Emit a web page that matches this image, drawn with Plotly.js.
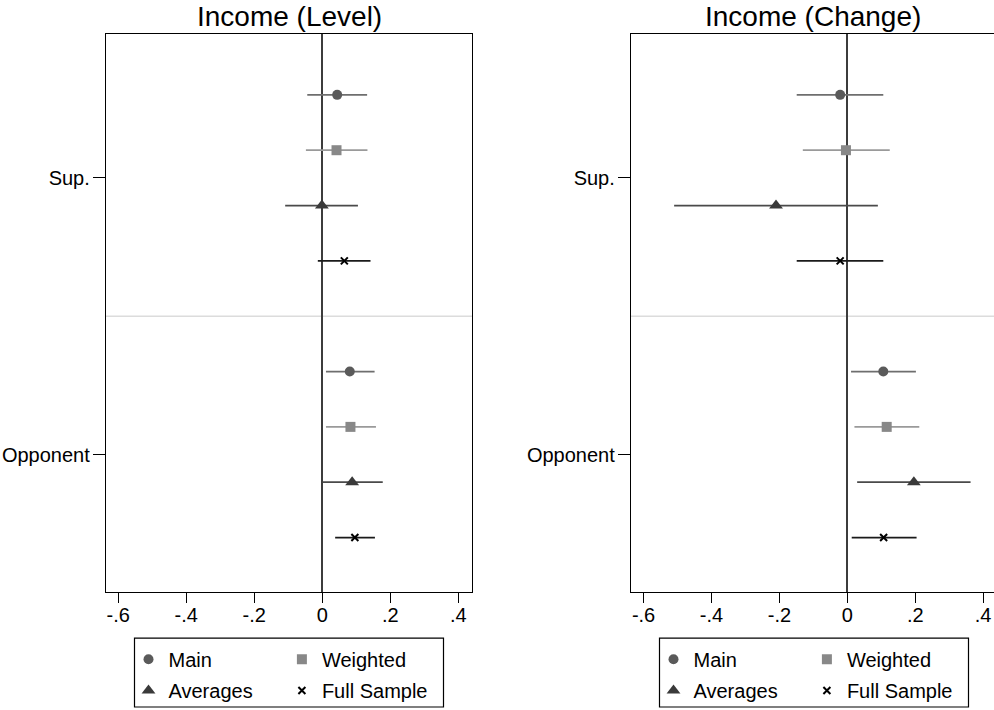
<!DOCTYPE html>
<html>
<head>
<meta charset="utf-8">
<script src="https://cdn.plot.ly/plotly-3.0.1.min.js"></script>
<style>html,body{margin:0;padding:0;background:#fff;}#chart{width:994px;height:710px;}</style>
</head>
<body>
<div id="chart"></div>
<script>
// ---- data ----
var groups = ['Sup.', 'Opponent'];
var seriesNames = ['Main', 'Weighted', 'Averages', 'Full Sample'];
var xTickVals = [-0.6, -0.4, -0.2, 0, 0.2, 0.4];
var xTickText = ['-.6', '-.4', '-.2', '0', '.2', '.4'];
var panelTitles = ['Income (Level)', 'Income (Change)'];

// Level panel: [Sup., Opponent]
var levelMainEst = [0.044, 0.081];
var levelMainLo  = [-0.044, 0.011];
var levelMainHi  = [0.132, 0.154];
var levelWeightedEst = [0.042, 0.083];
var levelWeightedLo  = [-0.048, 0.011];
var levelWeightedHi  = [0.133, 0.158];
var levelAveragesEst = [-0.001, 0.088];
var levelAveragesLo  = [-0.109, 0.001];
var levelAveragesHi  = [0.105, 0.178];
var levelFullEst = [0.065, 0.096];
var levelFullLo  = [-0.013, 0.038];
var levelFullHi  = [0.142, 0.155];

// Change panel: [Sup., Opponent]
var changeMainEst = [-0.021, 0.106];
var changeMainLo  = [-0.149, 0.011];
var changeMainHi  = [0.106, 0.202];
var changeWeightedEst = [-0.004, 0.116];
var changeWeightedLo  = [-0.131, 0.021];
var changeWeightedHi  = [0.125, 0.212];
var changeAveragesEst = [-0.210, 0.196];
var changeAveragesLo  = [-0.510, 0.029];
var changeAveragesHi  = [0.090, 0.363];
var changeFullEst = [-0.021, 0.107];
var changeFullLo  = [-0.149, 0.013];
var changeFullHi  = [0.106, 0.204];

// ---- styling ----
var FONT = 'Liberation Sans, Arial, Helvetica, sans-serif';
var W = 994, H = 710;
var styles = [
  {symbol: 'circle', size: 10, color: '#5a5a5a', lineColor: '#6e6e6e', mline: 0},
  {symbol: 'square', size: 10, color: '#888888', lineColor: '#9a9a9a', mline: 0},
  {symbol: 'triangle-up', size: 12, color: '#3a3a3a', lineColor: '#4a4a4a', mline: 0},
  {symbol: 'x-thin', size: 7, color: '#000000', lineColor: '#1a1a1a', mline: 2}
];

var panels = [
  {est: [levelMainEst, levelWeightedEst, levelAveragesEst, levelFullEst],
   lo: [levelMainLo, levelWeightedLo, levelAveragesLo, levelFullLo],
   hi: [levelMainHi, levelWeightedHi, levelAveragesHi, levelFullHi],
   xa: 'x', ya: 'y', left: 106, right: 472, xr: [-0.636, 0.4405]},
  {est: [changeMainEst, changeWeightedEst, changeAveragesEst, changeFullEst],
   lo: [changeMainLo, changeWeightedLo, changeAveragesLo, changeFullLo],
   hi: [changeMainHi, changeWeightedHi, changeAveragesHi, changeFullHi],
   xa: 'x2', ya: 'y2', left: 631, right: 994, xr: [-0.637, 0.432]}
];

var topPx = 34, botPx = 593;
var yRange = [9.987, -0.101];

var traces = [];
var legendIdx = 0;
var layout = {
  width: W, height: H,
  margin: {l: 0, r: 0, t: 0, b: 0},
  paper_bgcolor: '#ffffff', plot_bgcolor: '#ffffff',
  font: {family: FONT, size: 20, color: '#000'},
  showlegend: true,
  shapes: [], annotations: []
};

panels.forEach(function (p, pi) {
  var xKey = pi === 0 ? 'xaxis' : 'xaxis2';
  var yKey = pi === 0 ? 'yaxis' : 'yaxis2';
  layout[xKey] = {
    domain: [p.left / W, p.right / W], anchor: p.ya, range: p.xr,
    tickvals: xTickVals, ticktext: xTickText, ticks: 'outside', ticklen: 10,
    tickwidth: 1.2, tickcolor: '#000', showgrid: false,
    zeroline: true, zerolinecolor: '#3c3c3c', zerolinewidth: 1.8,
    showline: true, linecolor: '#000', linewidth: 1.2, mirror: true,
    tickfont: {family: FONT, size: 20, color: '#000'}, ticklabelstandoff: -5, fixedrange: true
  };
  layout[yKey] = {
    domain: [1 - botPx / H, 1 - topPx / H], anchor: p.xa, range: yRange,
    tickvals: [2.5, 7.5], ticktext: groups, ticks: 'outside', ticklen: 12,
    tickwidth: 1.2, tickcolor: '#000', showgrid: false, zeroline: false,
    showline: true, linecolor: '#000', linewidth: 1.2, mirror: true,
    tickfont: {family: FONT, size: 20, color: '#000'}, ticklabelstandoff: -1, fixedrange: true
  };
  // separator between groups
  layout.shapes.push({type: 'line', xref: p.xa + ' domain', x0: 0, x1: 1,
    yref: p.ya, y0: 5, y1: 5, line: {color: '#dcdcdc', width: 1.6}, layer: 'below'});
  // title
  layout.annotations.push({text: panelTitles[pi], xref: p.xa + ' domain', x: 0.5,
    yref: 'paper', y: 1 - 17 / H, yanchor: 'middle', xanchor: 'center', showarrow: false,
    font: {family: FONT, size: 28, color: '#000'}});
  // legend box
  var cx = (p.left + (pi === 0 ? p.right : 997)) / 2;
  layout.shapes.push({type: 'rect', xref: 'paper', yref: 'paper',
    x0: (cx - 154.5) / W, x1: (cx + 154.5) / W, y0: 1 - 708 / H, y1: 1 - 639 / H,
    line: {color: '#000', width: 1.2}, fillcolor: 'rgba(0,0,0,0)'});

  for (var s = 0; s < 4; s++) {
    var st = styles[s];
    var ys = [], ep = [], em = [];
    for (var g = 0; g < 2; g++) {
      ys.push(1 + g * 5 + s);
      ep.push(p.hi[s][g] - p.est[s][g]);
      em.push(p.est[s][g] - p.lo[s][g]);
    }
    var col = (s === 0 || s === 2) ? 0 : 1;
    var row = (s < 2) ? 0 : 1;
    legendIdx++;
    var lname = legendIdx === 1 ? 'legend' : 'legend' + legendIdx;
    var markerX = cx - 154.5 + 14 + col * 153.4;
    var rowY = row === 0 ? 659.3 : 691.7;
    layout[lname] = {
      x: (markerX - 20) / W, xanchor: 'left', xref: 'paper',
      y: 1 - rowY / H, yanchor: 'middle', yref: 'paper',
      bgcolor: 'rgba(0,0,0,0)', borderwidth: 0,
      font: {family: FONT, size: 20, color: '#000'}
    };
    traces.push({
      type: 'scatter', mode: 'markers', name: seriesNames[s],
      x: p.est[s], y: ys, xaxis: p.xa, yaxis: p.ya, legend: lname,
      marker: {symbol: st.symbol, size: st.size, color: st.color,
        line: {width: st.mline, color: st.color}},
      error_x: {type: 'data', symmetric: false, array: ep, arrayminus: em,
        width: 0, thickness: 1.8, color: st.lineColor},
      cliponaxis: false, hoverinfo: 'x+name'
    });
  }
});

Plotly.newPlot('chart', traces, layout, {staticPlot: true, displayModeBar: false});
</script>
</body>
</html>
